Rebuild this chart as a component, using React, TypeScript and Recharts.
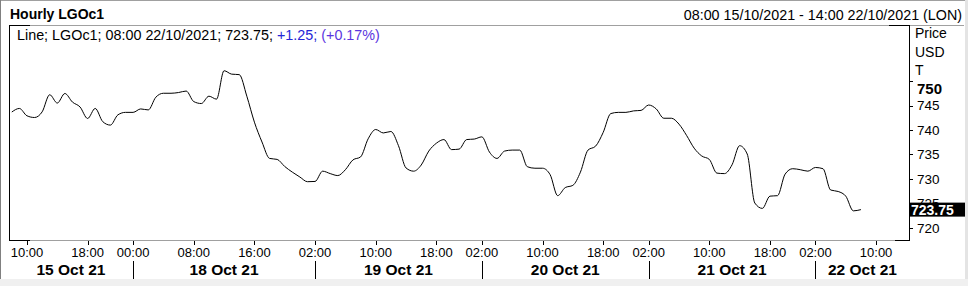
import React from "react";
import { LineChart, Line, XAxis, YAxis } from "recharts";

// Hourly LGOc1 closes, 08:00 15/10/2021 .. 08:00 22/10/2021 (trading hours only)
const prices: number[] = [
  743.67, 744.4, 742.9, 742.55, 743.7, 747.2, 745.5, 747.45, 745.7, 744.7,
  742.35, 744.4, 741.7, 741.0, 743.1, 743.6, 743.6, 744.3, 744.1, 746.7,
  747.5, 747.5, 747.65, 747.95, 745.8, 745.4, 746.9, 746.3, 752.1, 751.4,
  751.3, 746.9, 741.6, 737.55, 734.2, 734.0, 732.55, 731.4, 730.4, 729.45,
  729.5, 731.6, 731.1, 730.7, 731.9, 733.9, 734.5, 738.2, 740.1, 739.4,
  739.7, 736.8, 732.25, 731.6, 732.85, 735.7, 737.3, 738.05, 736.0, 736.1,
  738.05, 738.15, 738.6, 735.5, 734.2, 735.7, 735.9, 735.9, 732.5, 732.2,
  732.2, 730.9, 726.6, 728.25, 728.7, 731.4, 735.9, 736.7, 739.5, 743.35,
  743.6, 743.6, 743.9, 744.0, 745.1, 744.3, 742.4, 742.4, 741.2, 738.9,
  736.3, 734.7, 734.0, 731.2, 731.1, 732.9, 736.8, 735.1, 725.1, 724.0,
  726.5, 726.6, 731.0, 732.1, 731.9, 731.6, 732.35, 732.1, 727.75, 727.45,
  726.5, 723.5, 723.75,
];

// x positions are hourly slot indices (0 = 08:00 15 Oct)
const timeTicks: number[] = [2, 10, 16, 24, 32, 40, 48, 56, 62, 70, 78, 84, 92, 100, 106, 114];
const timeLabels: string[] = [
  "10:00", "18:00", "00:00", "08:00", "16:00", "02:00", "10:00", "18:00",
  "02:00", "10:00", "18:00", "02:00", "10:00", "18:00", "02:00", "10:00",
];
const dayBreaks: number[] = [16, 40, 62, 84, 106];
const dateMids: number[] = [7.8, 28, 51, 73, 95, 112.2];
const dateLabels: string[] = ["15 Oct 21", "18 Oct 21", "19 Oct 21", "20 Oct 21", "21 Oct 21", "22 Oct 21"];

const yTicks: number[] = [720, 725, 730, 735, 740, 745, 750];
const lastValue = 723.75;

const data = prices.map((p, i) => ({ i, price: p }));

const FONT = "'Liberation Sans', Arial, sans-serif";

const XTick = (props: any) => {
  const { x, y, payload } = props;
  const v = payload.value;
  const ti = timeTicks.indexOf(v);
  const di = dateMids.indexOf(v);
  const xr = Math.round(x) + 0.5;
  if (ti >= 0) {
    return (
      <g>
        <line x1={xr} x2={xr} y1={y + 1} y2={y + 5} stroke="#000" shapeRendering="crispEdges" />
        <text x={x} y={y + 17.4} textAnchor="middle" fontSize={13} fontFamily={FONT} fill="#000">
          {timeLabels[ti]}
        </text>
        {dayBreaks.includes(v) ? (
          <line x1={xr} x2={xr} y1={y + 21} y2={y + 39} stroke="#000" shapeRendering="crispEdges" />
        ) : null}
      </g>
    );
  }
  if (di >= 0) {
    return (
      <text x={x} y={y + 34.8} textAnchor="middle" fontSize={15.5} fontWeight="bold" fontFamily={FONT} fill="#000">
        {dateLabels[di]}
      </text>
    );
  }
  return null;
};

const YTick = (props: any) => {
  const { x, y, payload } = props;
  const v = payload.value;
  const yr = Math.round(y) + 0.5;
  if (v === lastValue) {
    return (
      <g>
        <rect x={909} y={y - 7} width={56} height={14} fill="#000" />
        <text x={911} y={y + 5} fontSize={14} fontWeight="bold" fontFamily={FONT} fill="#fff">
          {lastValue.toFixed(2)}
        </text>
      </g>
    );
  }
  if (v === 750) {
    return (
      <g>
        <line x1={x} x2={x + 4} y1={yr} y2={yr} stroke="#000" shapeRendering="crispEdges" />
        <text x={x + 8} y={y + 13} fontSize={15} fontWeight="bold" fontFamily={FONT} fill="#000">
          {v}
        </text>
      </g>
    );
  }
  return (
    <g>
      <line x1={x} x2={x + 4} y1={yr} y2={yr} stroke="#000" shapeRendering="crispEdges" />
      <text x={x + 8} y={y + 4.8} fontSize={13.5} fontFamily={FONT} fill="#000">
        {v}
      </text>
    </g>
  );
};

const abs = (s: React.CSSProperties): React.CSSProperties => ({ position: "absolute", ...s });

export default function App() {
  return (
    <div style={abs({ left: 0, top: 0, width: 968, height: 286, background: "#fff", fontFamily: FONT, overflow: "hidden" })}>
      <div style={abs({ left: 0, top: 0 })}>
        <LineChart width={968} height={286} data={data} margin={{ top: 25, right: 0, bottom: 0, left: 9 }}>
          <XAxis
            dataKey="i"
            type="number"
            domain={[-0.37, 118.34]}
            allowDataOverflow
            ticks={[...timeTicks, ...dateMids]}
            interval={0}
            height={46}
            axisLine={false}
            tickLine={false}
            tickSize={0}
            tickMargin={0}
            tick={(p: any) => <XTick {...p} />}
          />
          <YAxis
            orientation="right"
            type="number"
            domain={[717.55, 761.43]}
            allowDataOverflow
            ticks={[...yTicks, lastValue]}
            interval={0}
            width={59}
            axisLine={false}
            tickLine={false}
            tickSize={0}
            tickMargin={0}
            tick={(p: any) => <YTick {...p} />}
          />
          <Line
            type="monotone"
            dataKey="price"
            stroke="#000"
            strokeWidth={1}
            dot={false}
            activeDot={false}
            isAnimationActive={false}
          />
        </LineChart>
      </div>

      {/* outer frame */}
      <div style={abs({ left: 0, top: 0, width: 968, height: 1, background: "#a0a0a0" })} />
      <div style={abs({ left: 0, top: 0, width: 1, height: 286, background: "#808080" })} />
      <div style={abs({ left: 965, top: 0, width: 3, height: 286, background: "#e4e4e4" })} />
      <div style={abs({ left: 0, top: 279, width: 968, height: 7, background: "#f0f0f0" })} />

      {/* header */}
      <div style={abs({ left: 10, top: 7, fontSize: 14, lineHeight: "14px", fontWeight: "bold", whiteSpace: "nowrap", color: "#000" })}>
        Hourly LGOc1
      </div>
      <div style={abs({ right: 6, top: 7.5, fontSize: 14.3, lineHeight: "14px", whiteSpace: "nowrap", color: "#000" })}>
        08:00 15/10/2021 - 14:00 22/10/2021 (LON)
      </div>
      <div style={abs({ left: 9, top: 25, width: 955, height: 1, background: "#a0a0a0" })} />

      {/* plot frame */}
      <div style={abs({ left: 9, top: 25, width: 21, height: 1, background: "#000" })} />
      <div style={abs({ left: 889, top: 25, width: 21, height: 1, background: "#000" })} />
      <div style={abs({ left: 9, top: 25, width: 1, height: 216, background: "#000" })} />
      <div style={abs({ left: 909, top: 25, width: 1, height: 216, background: "#000" })} />
      <div style={abs({ left: 9, top: 240, width: 901, height: 1, background: "#a0a0a0" })} />
      <div style={abs({ left: 9, top: 240, width: 21, height: 1, background: "#000" })} />
      <div style={abs({ left: 895, top: 240, width: 15, height: 1, background: "#000" })} />

      {/* legend */}
      <div style={abs({ left: 17, top: 28, fontSize: 14.35, lineHeight: "14px", whiteSpace: "nowrap", color: "#000" })}>
        <span>Line; LGOc1; 08:00 22/10/2021; 723.75; </span>
        <span style={{ color: "#2626d6" }}>+1.25; </span>
        <span style={{ color: "#5a35e0" }}>(+0.17%)</span>
      </div>

      {/* axis unit labels */}
      <div style={abs({ left: 915, top: 26.3, fontSize: 14, lineHeight: "14px", color: "#000" })}>Price</div>
      <div style={abs({ left: 915, top: 44.7, fontSize: 14, lineHeight: "14px", color: "#000" })}>USD</div>
      <div style={abs({ left: 915, top: 62.5, fontSize: 14, lineHeight: "14px", color: "#000" })}>T</div>
    </div>
  );
}
